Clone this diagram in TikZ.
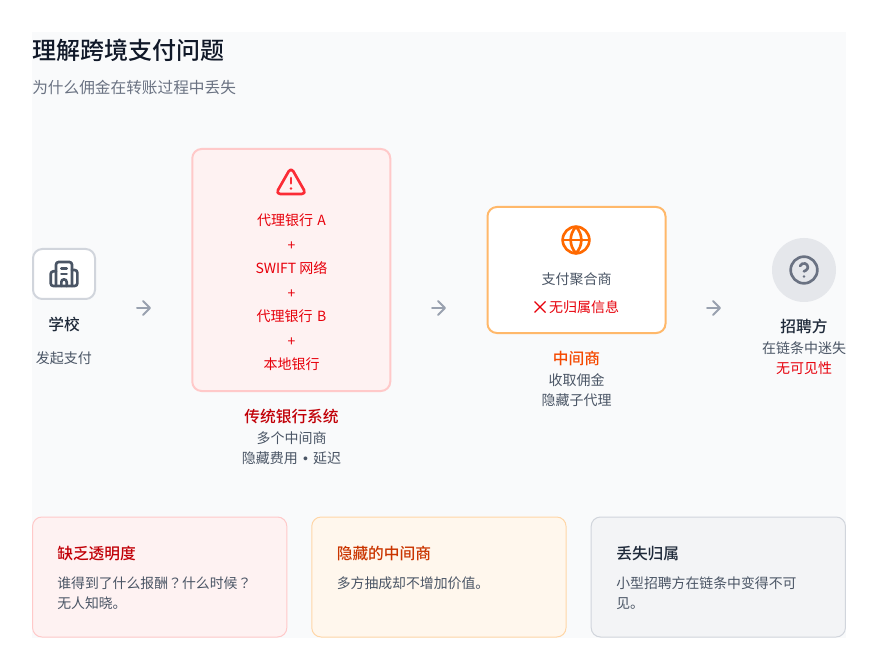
\documentclass[tikz,border=0pt]{standalone}
\usepackage{fontspec}
\usepackage{tikz}
\usetikzlibrary{arrows.meta}
\setmainfont{Noto Sans CJK SC}
\newfontfamily\medfont{Noto Sans CJK SC Medium}
\newfontfamily\markfont{Noto Sans CJK TC}
\newfontfamily\dotfont{Liberation Sans}

\definecolor{pagebg}{HTML}{F9FAFB}
\definecolor{inkdark}{HTML}{101828}
\definecolor{inkhead}{HTML}{1E2939}
\definecolor{inkgray}{HTML}{4A5565}
\definecolor{subgray}{HTML}{6A7282}
\definecolor{arrowgray}{HTML}{99A1AF}
\definecolor{linegray}{HTML}{D1D5DC}
\definecolor{circlegray}{HTML}{E5E7EB}
\definecolor{cardgray}{HTML}{F3F4F6}
\definecolor{redtext}{HTML}{E7000B}
\definecolor{redhead}{HTML}{C10007}
\definecolor{redicon}{HTML}{FB2C36}
\definecolor{redline}{HTML}{FFC9C9}
\definecolor{redfill}{HTML}{FEF2F2}
\definecolor{orangeicon}{HTML}{FF6900}
\definecolor{orangetext}{HTML}{F54900}
\definecolor{orangehead}{HTML}{CA3500}
\definecolor{orangeline}{HTML}{FFB86A}
\definecolor{orangesoft}{HTML}{FFD6A7}
\definecolor{orangefill}{HTML}{FFF7ED}

\tikzset{
  small/.style={inner sep=0pt, text height=9.24pt, text depth=1.26pt, font=\fontsize{10.5}{15}\selectfont, text=inkgray},
  cardtext/.style={small, anchor=west, font=\fontsize{10.4}{15}\selectfont},
  big/.style={inner sep=0pt, text height=10.4pt, text depth=1.4pt, font=\fontsize{11.8}{16}\medfont},
  box/.style={draw, inner sep=0pt, rounded corners=7pt, line width=1.5pt},
  card/.style={draw, inner sep=0pt, rounded corners=7pt, line width=.75pt, minimum width=190.7pt, minimum height=90pt},
  iconline/.style={line width=2pt, line cap=round, line join=round},
  flow/.style={arrowgray, line width=1.5pt, line cap=round, -{Straight Barb[length=5.25pt,width=10.5pt,round]}},
  buildingicon/.pic={
    \draw[iconline,pic actions] (6,21) -- (6,5) arc[start angle=180,end angle=270,radius=2] -- (16,3) arc[start angle=270,end angle=360,radius=2] -- (18,21);
    \draw[iconline,pic actions] (6,10) -- (4,10) arc[start angle=270,end angle=180,radius=2] -- (2,19) arc[start angle=180,end angle=90,radius=2] -- (20,21) arc[start angle=90,end angle=0,radius=2] -- (22,11) arc[start angle=0,end angle=-90,radius=2] -- (18,9);
    \draw[iconline,pic actions] (10,8) -- (14,8) (10,12) -- (14,12);
    \draw[iconline,pic actions] (10,21) -- (10,18) arc[start angle=180,end angle=360,radius=2] -- (14,21);
  },
  alerticon/.pic={
    \draw[iconline,pic actions,rounded corners=3.4pt] (12,21) -- (.56,21) -- (12,.97) -- (23.44,21) -- cycle;
    \draw[iconline,pic actions] (12,9) -- (12,13) (12,17) -- (12.01,17);
  },
  globeicon/.pic={
    \draw[iconline,pic actions] (12,12) circle[radius=10];
    \draw[iconline,pic actions] (12,2) .. controls (6.67,7.8) and (6.67,16.2) .. (12,22) .. controls (17.33,16.2) and (17.33,7.8) .. (12,2);
    \draw[iconline,pic actions] (2,12) -- (22,12);
  },
  helpicon/.pic={
    \draw[iconline,pic actions] (12,12) circle[radius=10];
    \draw[iconline,pic actions] (9.09,9) arc[start angle=199,end angle=360,radius=3] .. controls (14.92,12) and (11.92,13) .. (11.92,13);
    \draw[iconline,pic actions] (12,17) -- (12.01,17);
  },
}

\begin{document}
\begin{tikzpicture}[x=.75pt, y=-.75pt]
\useasboundingbox (0,0) rectangle (878,670);
\fill[pagebg] (32,32) rectangle (846,638);

% heading
\node[inner sep=0pt, text height=15.84pt, text depth=2.16pt, anchor=west, font=\fontsize{18}{24}\medfont, text=inkdark] (title) at (32,50) {理解跨境支付问题};
\node[small, anchor=west, font=\fontsize{11.75}{16}\selectfont, text=subgray] (subtitle) at (32,88) {为什么佣金在转账过程中丢失};

% school
\node[box, draw=linegray, fill=white, minimum width=46.5pt, minimum height=37.5pt] (school) at (64,274) {};
\pic[inkgray, scale=4/3] at (48,258) {buildingicon};
\node[big, text=inkhead] (schoolname) at (64,324) {学校};
\node[small] (schoolnote) at (64,358) {发起支付};

% banks
\node[box, draw=redline, fill=redfill, minimum width=148.5pt, minimum height=181.5pt] (bank) at (291.25,270) {};
\pic[redicon, scale=4/3] at (275,166) {alerticon};
\foreach \i/\y/\t in {1/220/代理银行\kern1pt{} A, 2/245/+, 3/268/SWIFT 网络, 4/293/+, 5/316/代理银行\kern1pt{} B, 6/341/+, 7/364/本地银行}{
\node[small, text=redtext] (bankline\i) at (291.5,\y) {\t};
}
\node[big, text=redhead] (bankname) at (291.5,416) {传统银行系统};
\node[small] (banknotea) at (291.5,438) {多个中间商};
\node[small] (banknoteb) at (291.5,458) {隐藏费用\kern1.5pt{} {\dotfont •} \kern1.5pt{}延迟};

% aggregator
\node[box, draw=orangeline, fill=white, minimum width=133.5pt, minimum height=94.5pt] (agg) at (576.5,270) {};
\pic[orangeicon, scale=4/3] at (560,224) {globeicon};
\node[small] (aggname) at (576.5,279) {支付聚合商};
\coordinate (crossa) at (534.5,301.5);
\coordinate (crossb) at (545.5,312.5);
\coordinate (crossc) at (534.5,312.5);
\coordinate (crossd) at (545.5,301.5);
\draw[redtext, line width=1pt] (crossa) -- (crossb) (crossc) -- (crossd);
\node[small, text=redtext] (aggmiss) at (584,307) {无归属信息};
\node[big, text=orangetext] (aggtitle) at (576.5,358) {中间商};
\node[small] (aggnotea) at (576.5,380) {收取佣金};
\node[small] (aggnoteb) at (576.5,400) {隐藏子代理};

% recruiter
\node[circle, fill=circlegray, inner sep=0pt, minimum size=48pt] (recruiter) at (804,270) {};
\pic[subgray, scale=4/3] at (788,254) {helpicon};
\node[big, text=inkhead] (recruitername) at (804,326) {招聘方};
\node[small] (recruiternote) at (804,348) {在链条中迷失};
\node[small, text=redtext] (recruitermiss) at (804,368) {无可见性};

% arrows between the columns
\foreach \i/\x in {a/144, b/439, c/714}{
\coordinate (flow\i start) at (\x-7,308);
\coordinate (flow\i end) at (\x+7,308);
\draw[flow] (flow\i start) -- (flow\i end);
}

% cards
\node[card, draw=redline, fill=redfill] (carda) at (159.7,577) {};
\node[card, draw=orangesoft, fill=orangefill] (cardb) at (438.9,577) {};
\node[card, draw=linegray, fill=cardgray] (cardc) at (718.3,577) {};
\node[big, anchor=west, text=redhead] (cardatitle) at (57,553) {缺乏透明度};
\node[big, anchor=west, text=orangehead] (cardbtitle) at (336.5,553) {隐藏的中间商};
\node[big, anchor=west, text=inkhead] (cardctitle) at (616,553) {丢失归属};
\node[cardtext] (cardatext) at (57,583) {谁得到了什么报酬{\markfont ？}什么时候{\markfont ？}};
\node[cardtext] (cardatextb) at (57,603) {无人知晓。};
\node[cardtext] (cardbtext) at (336.5,583) {多方抽成却不增加价值。};
\node[cardtext] (cardctext) at (616,583) {小型招聘方在链条中变得不可};
\node[cardtext] (cardctextb) at (616,603) {见。};
\end{tikzpicture}
\end{document}
